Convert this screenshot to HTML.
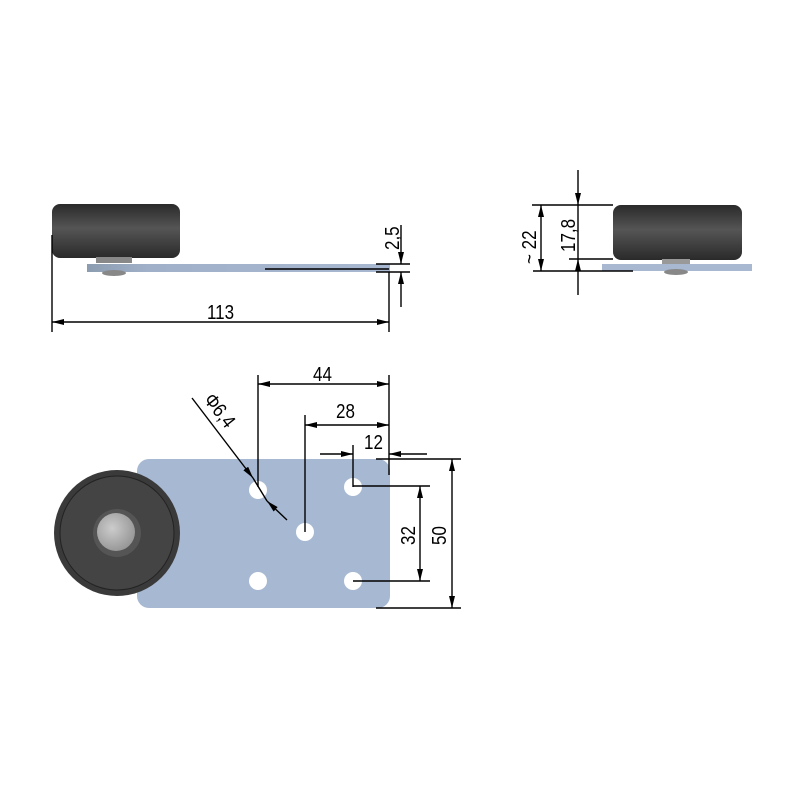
<!DOCTYPE html>
<html><head><meta charset="utf-8"><style>body{margin:0;background:#fff}svg{display:block}</style></head>
<body>
<svg width="800" height="800" viewBox="0 0 800 800" xmlns="http://www.w3.org/2000/svg" font-family="Liberation Sans, sans-serif">
<defs>
<linearGradient id="wv" x1="0" y1="0" x2="0" y2="1">
<stop offset="0" stop-color="#2a2a2a"/><stop offset="0.45" stop-color="#555"/><stop offset="1" stop-color="#2a2a2a"/>
</linearGradient>
<linearGradient id="pl" x1="0" y1="0" x2="1" y2="0">
<stop offset="0" stop-color="#8c9cb0"/><stop offset="0.2" stop-color="#9fb0c8"/><stop offset="1" stop-color="#a8b8d0"/>
</linearGradient>
<radialGradient id="hub" cx="0.4" cy="0.4" r="0.6"><stop offset="0" stop-color="#ccc"/><stop offset="1" stop-color="#999"/></radialGradient>
<marker id="a" viewBox="0 0 12 6" refX="12" refY="3" markerWidth="12" markerHeight="6" orient="auto-start-reverse" markerUnits="userSpaceOnUse"><path d="M0,0L12,3L0,6z" fill="#000"/></marker>
</defs>
<rect x="52" y="204" width="128" height="54" rx="8" fill="url(#wv)"/>
<rect x="96" y="257" width="36" height="6" fill="#888"/>
<rect x="87" y="264" width="303" height="8" fill="url(#pl)"/>
<ellipse cx="114" cy="273" rx="12" ry="3" fill="#888"/>
<g stroke="#000" stroke-width="1.4" fill="none">
<line x1="52" y1="235" x2="52" y2="332"/>
<line x1="389" y1="272" x2="389" y2="332"/>
<line x1="52" y1="322" x2="389" y2="322" marker-start="url(#a)" marker-end="url(#a)"/>
<line x1="265" y1="269" x2="389" y2="269"/>
<line x1="376" y1="264" x2="410" y2="264"/>
<line x1="376" y1="272" x2="410" y2="272"/>
<line x1="401" y1="225" x2="401" y2="264" marker-end="url(#a)"/>
<line x1="401" y1="307" x2="401" y2="272" marker-end="url(#a)"/>
</g>
<text font-size="20" transform="translate(399,250) rotate(-90) scale(0.85,1)">2,5</text>
<text font-size="20" transform="translate(207,319) scale(0.85,1)">113</text>
<rect x="613" y="205" width="129" height="55" rx="8" fill="url(#wv)"/>
<rect x="662" y="259" width="28" height="5" fill="#999"/>
<rect x="602" y="264" width="150" height="7" fill="#a8b8d0"/>
<ellipse cx="676" cy="272" rx="12" ry="3" fill="#888"/>
<g stroke="#000" stroke-width="1.4" fill="none">
<line x1="532" y1="205" x2="613" y2="205"/>
<line x1="569" y1="259" x2="613" y2="259"/>
<line x1="533" y1="271" x2="633" y2="271"/>
<line x1="541" y1="205" x2="541" y2="271" marker-start="url(#a)" marker-end="url(#a)"/>
<line x1="578" y1="170" x2="578" y2="205" marker-end="url(#a)"/>
<line x1="578" y1="295" x2="578" y2="259" marker-end="url(#a)"/>
<line x1="578" y1="205" x2="578" y2="259"/>
</g>
<text font-size="20" transform="translate(536,264) rotate(-90) scale(0.85,1)">~ 22</text>
<text font-size="20" transform="translate(575,252) rotate(-90) scale(0.85,1)">17,8</text>
<rect x="137" y="459" width="253" height="149" rx="12" fill="#a7b8d2"/>
<circle cx="117" cy="533" r="63" fill="#3a3a3a"/>
<circle cx="117" cy="533" r="57" fill="#444" stroke="#222" stroke-width="1"/>
<circle cx="117" cy="533" r="24" fill="#555"/>
<circle cx="116" cy="532" r="19" fill="url(#hub)"/>
<g fill="#fff">
<circle cx="258" cy="490" r="9"/><circle cx="353" cy="487" r="9"/><circle cx="305" cy="532" r="9"/>
<circle cx="258" cy="581" r="9"/><circle cx="353" cy="581" r="9"/>
</g>
<g stroke="#000" stroke-width="1.4" fill="none">
<line x1="258" y1="375" x2="258" y2="487"/>
<line x1="389" y1="375" x2="389" y2="475"/>
<line x1="258" y1="384" x2="389" y2="384" marker-start="url(#a)" marker-end="url(#a)"/>
<line x1="305" y1="415" x2="305" y2="532"/>
<line x1="305" y1="425" x2="389" y2="425" marker-start="url(#a)" marker-end="url(#a)"/>
<line x1="353" y1="445" x2="353" y2="487"/>
<line x1="320" y1="454" x2="353" y2="454" marker-end="url(#a)"/>
<line x1="427" y1="454" x2="389" y2="454" marker-end="url(#a)"/>
<line x1="376" y1="459" x2="461" y2="459"/>
<line x1="376" y1="608" x2="461" y2="608"/>
<line x1="452" y1="459" x2="452" y2="608" marker-start="url(#a)" marker-end="url(#a)"/>
<line x1="353" y1="486" x2="430" y2="486"/>
<line x1="353" y1="581" x2="430" y2="581"/>
<line x1="420" y1="486" x2="420" y2="581" marker-start="url(#a)" marker-end="url(#a)"/>
<line x1="192" y1="398" x2="253" y2="478" marker-end="url(#a)"/>
<line x1="287" y1="520" x2="267" y2="501" marker-end="url(#a)"/>
<line x1="253" y1="478" x2="267" y2="501"/>
</g>
<text font-size="20" transform="translate(313,381) scale(0.85,1)">44</text>
<text font-size="20" transform="translate(336,418) scale(0.85,1)">28</text>
<text font-size="20" transform="translate(364,449) scale(0.85,1)">12</text>
<text font-size="20" transform="translate(415,545) rotate(-90) scale(0.85,1)">32</text>
<text font-size="20" transform="translate(446,545) rotate(-90) scale(0.85,1)">50</text>
<text font-size="20" transform="translate(203,400) rotate(52) scale(0.85,1)">Φ6,4</text>
</svg>
</body></html>
